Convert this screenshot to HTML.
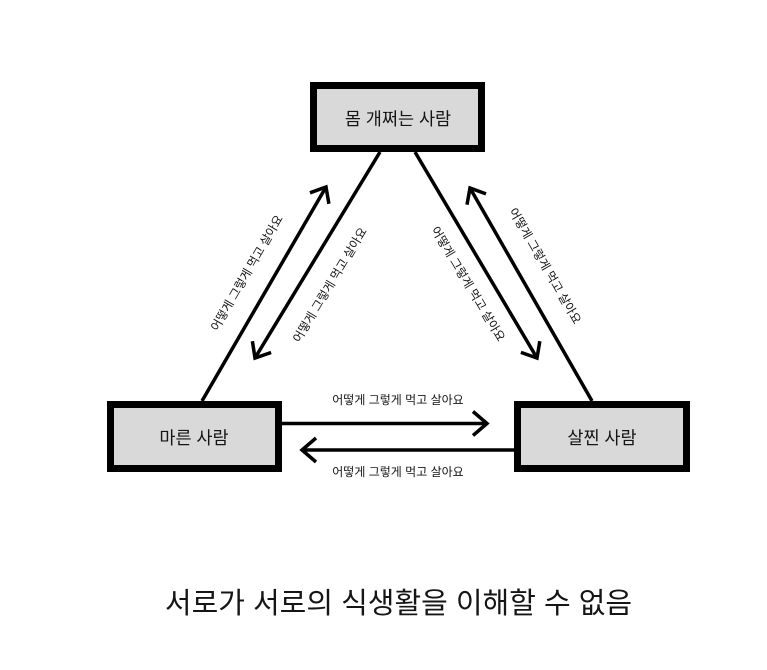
<!DOCTYPE html>
<html>
<head>
<meta charset="utf-8">
<style>
  html, body { margin:0; padding:0; background:#fff; }
  svg { display:block; }
  text { font-family: "Liberation Sans", "Noto Sans CJK KR", sans-serif; fill:#151515; }
</style>
</head>
<body>
<svg width="767" height="670" viewBox="0 0 767 670" xmlns="http://www.w3.org/2000/svg">
  <rect x="0" y="0" width="767" height="670" fill="#fff"/>

  <!-- arrows -->
  <g stroke="#000" stroke-width="3.5" fill="none" stroke-linejoin="miter" stroke-linecap="butt">
    <!-- left side -->
    <line x1="202" y1="401" x2="326" y2="187"/>
    <polyline points="310,192.8 326,187 328.9,203.8"/>
    <line x1="380" y1="152" x2="255" y2="358"/>
    <polyline points="271.1,352.5 255,358 252.4,341.2"/>
    <!-- right side -->
    <line x1="415" y1="152" x2="537" y2="358"/>
    <polyline points="539.8,341.2 537,358 520.9,352.4"/>
    <line x1="592" y1="401" x2="470" y2="188"/>
    <polyline points="467,204.7 470,188 486,193.9"/>
    <!-- horizontal -->
    <line x1="282" y1="423.5" x2="487" y2="423.5"/>
    <polyline points="473,411.5 487,423.5 473,435.5"/>
    <line x1="514" y1="450" x2="302" y2="450"/>
    <polyline points="316,438 302,450 316,462"/>
  </g>

  <!-- boxes -->
  <g fill="#d9d9d9" stroke="#000" stroke-width="7">
    <rect x="313.5" y="85.5" width="168" height="63"/>
    <rect x="110.5" y="404.5" width="168" height="64"/>
    <rect x="517.5" y="404.5" width="169" height="64"/>
  </g>

  <!-- box labels -->
  <g font-size="17.5" text-anchor="middle" dominant-baseline="central">
    <text x="398" y="119">몸 개쩌는 사람</text>
    <text x="194" y="438">마른 사람</text>
    <text x="602" y="438">살찐 사람</text>
  </g>

  <!-- connector labels -->
  <g font-size="12" text-anchor="middle" dominant-baseline="central">
    <text x="398" y="400">어떻게 그렇게 먹고 살아요</text>
    <text x="398" y="472">어떻게 그렇게 먹고 살아요</text>
    <text transform="translate(247,273) rotate(-60)">어떻게 그렇게 먹고 살아요</text>
    <text transform="translate(330,285) rotate(-59)">어떻게 그렇게 먹고 살아요</text>
    <text transform="translate(468,284) rotate(59)">어떻게 그렇게 먹고 살아요</text>
    <text transform="translate(545,266) rotate(60)">어떻게 그렇게 먹고 살아요</text>
  </g>

  <!-- title -->
  <text x="398.5" y="604" font-size="29" text-anchor="middle" dominant-baseline="central" fill="#111">서로가 서로의 식생활을 이해할 수 없음</text>
</svg>
</body>
</html>
